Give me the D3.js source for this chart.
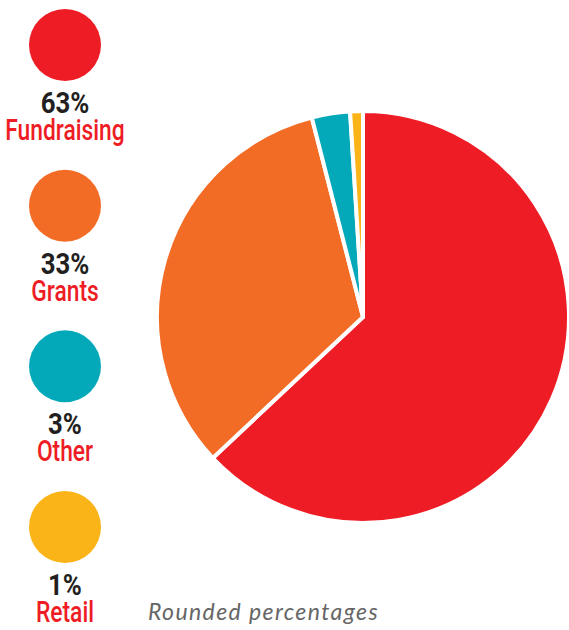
<!DOCTYPE html>
<html>
<head>
<meta charset="utf-8">
<script src="https://cdn.jsdelivr.net/npm/d3@7"></script>
<style>
  body { margin: 0; background: #fff; }
  svg { display: block; }
</style>
</head>
<body>
<svg id="chart" width="569" height="630"></svg>
<script>
const categories = ["Fundraising", "Grants", "Other", "Retail"];
const values = [63, 33, 3, 1];
const colors = ["#ee1d25", "#f36c26", "#03a9b9", "#fbb417"];
const note = "Rounded percentages";

const width = 569, height = 630;
const svg = d3.select("#chart");

// pie, starts at 12 o'clock and goes clockwise
const cx = 363, cy = 317, radius = 206;
const pie = d3.pie().sort(null).value(d => d)(values);
const arc = d3.arc().innerRadius(0).outerRadius(radius);

svg.append("g")
  .attr("transform", `translate(${cx},${cy})`)
  .selectAll("path")
  .data(pie)
  .join("path")
  .attr("d", arc)
  .attr("fill", (d, i) => colors[i])
  .attr("stroke", "#fff")
  .attr("stroke-width", 4)
  .attr("stroke-linejoin", "round");

// legend down the left side
const legendY = d3.scalePoint().domain(categories).range([45, 527]);
const legend = svg.append("g")
  .selectAll("g")
  .data(categories)
  .join("g")
  .attr("transform", d => `translate(65,${legendY(d)})`);

legend.append("circle")
  .attr("r", 36)
  .attr("fill", (d, i) => colors[i]);

// no condensed font installed, so squeeze roboto instead
legend.append("text")
  .attr("transform", "translate(0,68) scale(0.86,1)")
  .attr("text-anchor", "middle")
  .style("font-family", "Roboto, 'Noto Sans', sans-serif")
  .style("font-weight", "bold")
  .style("font-size", "30px")
  .attr("fill", "#231f20")
  .text((d, i) => values[i] + "%");

legend.append("text")
  .attr("transform", "translate(0,95) scale(0.76,1)")
  .attr("text-anchor", "middle")
  .style("font-family", "Roboto, 'Noto Sans', sans-serif")
  .style("font-weight", 500)
  .style("font-size", "30px")
  .attr("fill", "#ee1d25")
  .text(d => d);

svg.append("text")
  .attr("x", 148)
  .attr("y", 620)
  .style("font-family", "Lato, 'Open Sans', sans-serif")
  .style("font-style", "italic")
  .style("font-size", "23px")
  .style("letter-spacing", "1.4px")
  .attr("fill", "#666")
  .text(note);
</script>
</body>
</html>
